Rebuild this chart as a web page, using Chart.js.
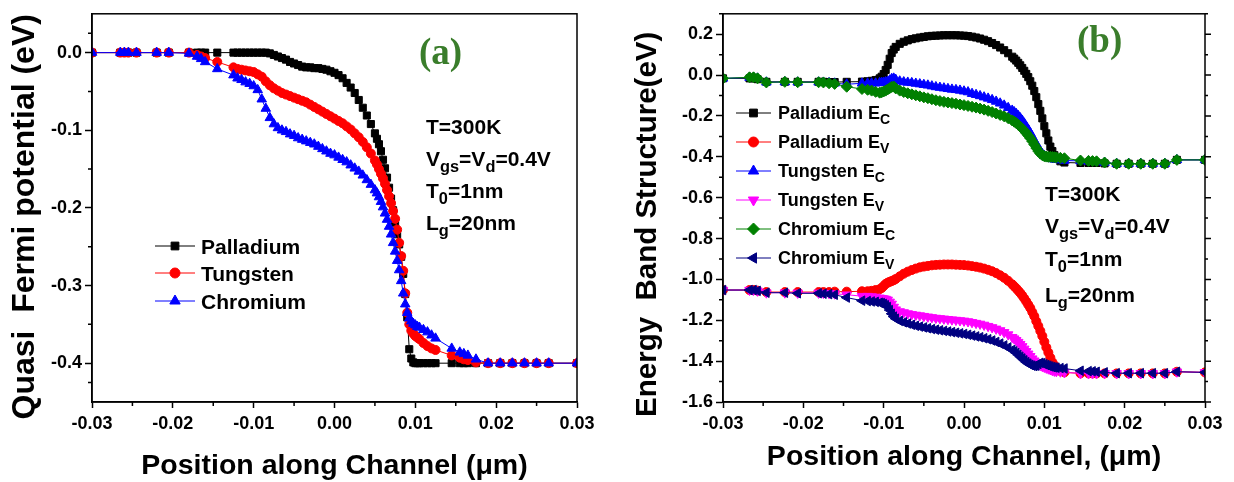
<!DOCTYPE html>
<html>
<head>
<meta charset="utf-8">
<script src="https://cdn.jsdelivr.net/npm/chart.js@4.4.1/dist/chart.umd.min.js"></script>
<style>
  body { margin: 0; background: #fff; width: 1234px; height: 482px; overflow: hidden; position: relative; }
  canvas { position: absolute; top: 0; }
  #chartA { left: 0; }
  #chartB { left: 615px; }
  .t { position: absolute; font-family: "Liberation Sans", Arial, sans-serif; font-weight: bold; color: #000; line-height: 1; white-space: nowrap; }
  .t .s { position: relative; top: 0.35em; font-size: 0.78em; }
  .tag { position: absolute; font-family: "Liberation Serif", "DejaVu Serif", serif; font-weight: bold; color: #3a7d2b; font-size: 37px; line-height: 1; }
</style>
</head>
<body>
<canvas id="chartA" width="610" height="482"></canvas>
<canvas id="chartB" width="619" height="482"></canvas>

<div class="tag" style="left:419px;top:33px">(a)</div>
<div class="t" style="left:426px;top:116px;font-size:21px">T=300K</div>
<div class="t" style="left:426px;top:148px;font-size:21px">V<span class="s">gs</span>=V<span class="s">d</span>=0.4V</div>
<div class="t" style="left:426px;top:180px;font-size:21px">T<span class="s">0</span>=1nm</div>
<div class="t" style="left:426px;top:212px;font-size:21px">L<span class="s">g</span>=20nm</div>
<div class="t" style="left:201px;top:236px;font-size:21px">Palladium</div>
<div class="t" style="left:201px;top:263px;font-size:21px">Tungsten</div>
<div class="t" style="left:201px;top:291px;font-size:21px">Chromium</div>

<div class="tag" style="left:1077px;top:21px">(b)</div>
<div class="t" style="left:1045px;top:183px;font-size:21px">T=300K</div>
<div class="t" style="left:1045px;top:215px;font-size:21px">V<span class="s">gs</span>=V<span class="s">d</span>=0.4V</div>
<div class="t" style="left:1045px;top:248px;font-size:21px">T<span class="s">0</span>=1nm</div>
<div class="t" style="left:1045px;top:284px;font-size:21px">L<span class="s">g</span>=20nm</div>
<div class="t" style="left:778px;top:104px;font-size:18px">Palladium E<span class="s">C</span></div>
<div class="t" style="left:778px;top:133px;font-size:18px">Palladium E<span class="s">V</span></div>
<div class="t" style="left:778px;top:162px;font-size:18px">Tungsten E<span class="s">C</span></div>
<div class="t" style="left:778px;top:191px;font-size:18px">Tungsten E<span class="s">V</span></div>
<div class="t" style="left:778px;top:220px;font-size:18px">Chromium E<span class="s">C</span></div>
<div class="t" style="left:778px;top:249px;font-size:18px">Chromium E<span class="s">V</span></div>

<script>
"use strict";

// ---------- panel (a): quasi Fermi potential ----------
var xTicks = [-0.03, -0.02, -0.01, 0, 0.01, 0.02, 0.03];
var xTickLabels = ["-0.03", "-0.02", "-0.01", "0.00", "0.01", "0.02", "0.03"];
var yTicksA = [-0.4, -0.3, -0.2, -0.1, 0];
var yTickLabelsA = ["-0.4", "-0.3", "-0.2", "-0.1", "0.0"];

var xA = [
  -0.03, -0.0265, -0.026, -0.0255, -0.0245, -0.022, -0.0205, -0.018, -0.017, -0.0165, -0.016, -0.0145, -0.0125,
  -0.012, -0.0115, -0.011, -0.0105, -0.01, -0.0095, -0.009, -0.0085, -0.008, -0.0075, -0.007, -0.0065,
  -0.006, -0.0055, -0.005, -0.0045, -0.004, -0.0035, -0.003, -0.0025, -0.002, -0.0015, -0.001, -0.0005,
  0, 0.0005, 0.001, 0.0015, 0.002, 0.0025, 0.003, 0.0035, 0.004, 0.0045, 0.005,
  0.00525, 0.0055, 0.00575, 0.006, 0.00625, 0.0065, 0.00675, 0.007, 0.00725, 0.0075, 0.00775,
  0.008, 0.00825, 0.0085, 0.00875, 0.009, 0.00925, 0.0095, 0.00975, 0.01, 0.01025, 0.0105,
  0.011, 0.0115, 0.012, 0.0125, 0.0145, 0.0155, 0.016, 0.0165, 0.0175, 0.019, 0.0205, 0.022, 0.0235, 0.025, 0.0265, 0.03
];
var palladiumA = [
  0, 0, 0, 0, 0, 0, 0, 0, 0, 0, 0, 0, 0,
  0, 0, 0, 0, 0, 0, 0, 0, -0.001, -0.003, -0.005, -0.007,
  -0.009, -0.012, -0.014, -0.016, -0.018, -0.019, -0.019, -0.020, -0.020, -0.021, -0.022, -0.024,
  -0.026, -0.029, -0.033, -0.039, -0.045, -0.052, -0.061, -0.071, -0.081, -0.092, -0.104,
  -0.111, -0.118, -0.127, -0.138, -0.149, -0.161, -0.174, -0.188, -0.203, -0.219, -0.234,
  -0.247, -0.263, -0.285, -0.311, -0.341, -0.382, -0.394, -0.399, -0.4, -0.4, -0.4,
  -0.4, -0.4, -0.4, -0.4, -0.4, -0.4, -0.4, -0.4, -0.4, -0.4, -0.4, -0.4, -0.4, -0.4, -0.4, -0.4
];
var tungstenA = [
  0, 0, 0, 0, 0, 0, 0, 0, -0.003, -0.005, -0.007, -0.012, -0.019,
  -0.021, -0.022, -0.023, -0.024, -0.025, -0.028, -0.031, -0.037, -0.042, -0.046, -0.049, -0.052,
  -0.054, -0.056, -0.058, -0.060, -0.062, -0.064, -0.067, -0.070, -0.073, -0.076, -0.079, -0.082,
  -0.085, -0.088, -0.091, -0.095, -0.099, -0.104, -0.109, -0.115, -0.122, -0.130, -0.139,
  -0.144, -0.150, -0.156, -0.162, -0.169, -0.177, -0.185, -0.194, -0.204, -0.214, -0.228,
  -0.245, -0.262, -0.281, -0.310, -0.335, -0.350, -0.358, -0.362, -0.365, -0.367, -0.369,
  -0.374, -0.378, -0.381, -0.383, -0.390, -0.393, -0.395, -0.396, -0.399, -0.4, -0.4, -0.4, -0.4, -0.4, -0.4, -0.4
];
var chromiumA = [
  0, 0, 0, 0, 0, 0, 0, -0.001, -0.005, -0.008, -0.012, -0.021, -0.029,
  -0.033, -0.035, -0.038, -0.040, -0.043, -0.048, -0.060, -0.072, -0.084, -0.092, -0.097, -0.100,
  -0.102, -0.105, -0.107, -0.110, -0.112, -0.114, -0.116, -0.118, -0.121, -0.124, -0.127, -0.130,
  -0.132, -0.135, -0.138, -0.141, -0.145, -0.149, -0.153, -0.158, -0.164, -0.170, -0.177,
  -0.181, -0.186, -0.192, -0.199, -0.207, -0.215, -0.224, -0.234, -0.245, -0.256, -0.268,
  -0.280, -0.294, -0.310, -0.324, -0.335, -0.342, -0.346, -0.349, -0.351, -0.353, -0.354,
  -0.357, -0.360, -0.364, -0.368, -0.381, -0.386, -0.388, -0.390, -0.395, -0.4, -0.4, -0.4, -0.4, -0.4, -0.4, -0.4
];

// ---------- panel (b): energy band structure ----------
var yTicksB = [-1.6, -1.4, -1.2, -1.0, -0.8, -0.6, -0.4, -0.2, 0, 0.2];
var yTickLabelsB = ["-1.6", "-1.4", "-1.2", "-1.0", "-0.8", "-0.6", "-0.4", "-0.2", "0.0", "0.2"];

var xB = [
  -0.03, -0.0267, -0.0262, -0.0257, -0.0246, -0.0223, -0.0207, -0.0181, -0.0175, -0.0168, -0.0161, -0.0146, -0.0127,
  -0.012, -0.0115, -0.011, -0.0105, -0.01025, -0.01, -0.00975, -0.0095, -0.00925, -0.009, -0.00875, -0.0085, -0.008,
  -0.0075, -0.007, -0.0065, -0.006, -0.0055, -0.005, -0.0045, -0.004, -0.0035, -0.003, -0.0025, -0.002, -0.0015, -0.001,
  -0.0005, 0, 0.0005, 0.001, 0.0015, 0.002, 0.0025, 0.003, 0.0035, 0.004, 0.0045, 0.005, 0.0055, 0.006,
  0.00625, 0.0065, 0.00675, 0.007, 0.00725, 0.0075, 0.00775, 0.008, 0.00825, 0.0085, 0.00875,
  0.009, 0.00925, 0.0095, 0.00975, 0.01, 0.01025, 0.0105, 0.01075, 0.011, 0.01125, 0.0115,
  0.012, 0.0125, 0.0145, 0.0155, 0.016, 0.0165, 0.0175, 0.019, 0.0205, 0.022, 0.0235, 0.025, 0.0265, 0.03
];
var palladiumEc = [
  -0.016, -0.016, -0.016, -0.020, -0.033, -0.033, -0.033, -0.033, -0.033, -0.034, -0.034, -0.033, -0.032,
  -0.030, -0.028, -0.024, -0.016, -0.008, 0.005, 0.025, 0.050, 0.080, 0.108, 0.125, 0.138, 0.153,
  0.163, 0.170, 0.176, 0.180, 0.184, 0.187, 0.190, 0.192, 0.193, 0.194, 0.195, 0.195, 0.195, 0.195,
  0.194, 0.193, 0.191, 0.188, 0.184, 0.179, 0.173, 0.166, 0.157, 0.147, 0.135, 0.122, 0.107, 0.090,
  0.081, 0.071, 0.060, 0.048, 0.035, 0.021, 0.006, -0.010, -0.030, -0.052, -0.078,
  -0.108, -0.142, -0.175, -0.212, -0.250, -0.285, -0.320, -0.350, -0.372, -0.392, -0.408,
  -0.422, -0.428, -0.430, -0.430, -0.430, -0.430, -0.432, -0.434, -0.434, -0.434, -0.434, -0.434, -0.415, -0.415
];
var palladiumEv = [
  -1.052, -1.052, -1.052, -1.055, -1.062, -1.062, -1.062, -1.062, -1.062, -1.062, -1.060, -1.060, -1.058,
  -1.058, -1.056, -1.052, -1.048, -1.042, -1.032, -1.022, -1.016, -1.012, -1.008, -1.004, -0.998, -0.985,
  -0.972, -0.962, -0.954, -0.947, -0.941, -0.937, -0.934, -0.931, -0.929, -0.928, -0.927, -0.927, -0.927, -0.928,
  -0.929, -0.930, -0.932, -0.935, -0.938, -0.942, -0.947, -0.953, -0.960, -0.969, -0.980, -0.992, -1.007, -1.024,
  -1.034, -1.044, -1.055, -1.066, -1.079, -1.093, -1.108, -1.124, -1.140, -1.160, -1.180,
  -1.205, -1.228, -1.252, -1.277, -1.305, -1.333, -1.358, -1.383, -1.405, -1.420, -1.432,
  -1.448, -1.455, -1.460, -1.460, -1.460, -1.460, -1.460, -1.460, -1.460, -1.460, -1.460, -1.460, -1.452, -1.455
];
var tungstenEc = [
  -0.016, -0.012, -0.012, -0.016, -0.035, -0.034, -0.035, -0.035, -0.036, -0.038, -0.040, -0.045, -0.040,
  -0.040, -0.040, -0.040, -0.038, -0.037, -0.036, -0.034, -0.032, -0.025, -0.018, -0.016, -0.022, -0.030,
  -0.034, -0.036, -0.038, -0.041, -0.044, -0.047, -0.050, -0.054, -0.058, -0.061, -0.064, -0.067, -0.070, -0.072,
  -0.075, -0.079, -0.083, -0.091, -0.096, -0.102, -0.108, -0.114, -0.121, -0.129, -0.138, -0.148, -0.160, -0.173,
  -0.181, -0.189, -0.199, -0.210, -0.222, -0.236, -0.251, -0.266, -0.283, -0.301, -0.320,
  -0.338, -0.356, -0.372, -0.385, -0.395, -0.400, -0.404, -0.407, -0.410, -0.412, -0.414,
  -0.416, -0.418, -0.420, -0.422, -0.424, -0.425, -0.428, -0.433, -0.433, -0.433, -0.433, -0.433, -0.415, -0.415
];
var tungstenEv = [
  -1.052, -1.052, -1.052, -1.056, -1.065, -1.065, -1.066, -1.066, -1.067, -1.068, -1.070, -1.075, -1.082,
  -1.082, -1.084, -1.086, -1.090, -1.092, -1.094, -1.096, -1.100, -1.110, -1.120, -1.135, -1.148, -1.157,
  -1.162, -1.167, -1.171, -1.174, -1.177, -1.180, -1.183, -1.186, -1.189, -1.191, -1.193, -1.195, -1.197, -1.199,
  -1.201, -1.203, -1.206, -1.210, -1.214, -1.218, -1.223, -1.229, -1.235, -1.242, -1.250, -1.259, -1.270, -1.283,
  -1.290, -1.298, -1.307, -1.317, -1.328, -1.340, -1.352, -1.364, -1.376, -1.388, -1.398,
  -1.407, -1.414, -1.420, -1.425, -1.429, -1.433, -1.437, -1.441, -1.445, -1.448, -1.450,
  -1.452, -1.455, -1.460, -1.460, -1.460, -1.460, -1.460, -1.460, -1.460, -1.460, -1.460, -1.460, -1.452, -1.455
];
var chromiumEc = [
  -0.016, -0.011, -0.011, -0.016, -0.036, -0.033, -0.035, -0.035, -0.036, -0.040, -0.043, -0.057, -0.068,
  -0.072, -0.076, -0.082, -0.086, -0.084, -0.080, -0.076, -0.070, -0.064, -0.058, -0.056, -0.065, -0.076,
  -0.083, -0.089, -0.094, -0.099, -0.104, -0.109, -0.113, -0.118, -0.123, -0.127, -0.131, -0.134, -0.137, -0.140,
  -0.144, -0.147, -0.151, -0.155, -0.159, -0.164, -0.169, -0.175, -0.181, -0.188, -0.195, -0.202, -0.211, -0.222,
  -0.228, -0.235, -0.243, -0.252, -0.262, -0.272, -0.284, -0.296, -0.309, -0.324, -0.340,
  -0.357, -0.372, -0.384, -0.392, -0.397, -0.399, -0.400, -0.400, -0.401, -0.402, -0.403,
  -0.405, -0.407, -0.418, -0.420, -0.421, -0.422, -0.428, -0.434, -0.434, -0.434, -0.434, -0.434, -0.415, -0.415
];
var chromiumEv = [
  -1.052, -1.052, -1.052, -1.056, -1.065, -1.065, -1.068, -1.068, -1.070, -1.072, -1.075, -1.089, -1.104,
  -1.106, -1.108, -1.110, -1.114, -1.116, -1.120, -1.126, -1.135, -1.150, -1.168, -1.182, -1.192, -1.203,
  -1.210, -1.216, -1.222, -1.227, -1.231, -1.235, -1.239, -1.243, -1.246, -1.249, -1.252, -1.255, -1.258, -1.261,
  -1.264, -1.267, -1.271, -1.275, -1.279, -1.283, -1.288, -1.293, -1.299, -1.306, -1.314, -1.323, -1.333, -1.345,
  -1.352, -1.360, -1.369, -1.378, -1.387, -1.396, -1.405, -1.412, -1.418, -1.422, -1.424,
  -1.422, -1.414, -1.408, -1.410, -1.415, -1.419, -1.422, -1.426, -1.429, -1.431, -1.432,
  -1.434, -1.436, -1.447, -1.449, -1.450, -1.452, -1.455, -1.459, -1.459, -1.459, -1.459, -1.459, -1.452, -1.455
];

var FONT = "'Liberation Sans', Arial, sans-serif";

var pairs = function(xs, ys) {
  return xs.map(function(x, i) {
    return { x: x, y: ys[i] };
  });
};

var series = function(label, xs, ys, color, style, radius, rotation, order) {
  return {
    label: label,
    data: pairs(xs, ys),
    borderColor: color,
    backgroundColor: color,
    borderWidth: 1,
    pointStyle: style,
    pointRadius: radius,
    pointRotation: rotation,
    pointBackgroundColor: color,
    pointBorderColor: color,
    pointBorderWidth: 1,
    order: order
  };
};

// frame, minor ticks and legend symbols
var framePlugin = {
  id: "frame",
  afterDraw: function(chart) {
    var o = chart.options.plugins.frame;
    var ctx = chart.ctx;
    var a = chart.chartArea;
    var xs = chart.scales.x;
    var ys = chart.scales.y;
    var i, p;
    ctx.save();
    ctx.strokeStyle = "#000";
    ctx.lineWidth = 1.5;
    ctx.strokeRect(a.left, a.top, a.right - a.left, a.bottom - a.top);

    ctx.beginPath();
    for (i = 0; i < o.xTicks.length - 1; i++) {
      p = xs.getPixelForValue((o.xTicks[i] + o.xTicks[i + 1]) / 2);
      ctx.moveTo(p, a.bottom);
      ctx.lineTo(p, a.bottom + 4);
    }
    for (i = 0; i < o.yTicks.length - 1; i++) {
      p = ys.getPixelForValue((o.yTicks[i] + o.yTicks[i + 1]) / 2);
      ctx.moveTo(a.left, p);
      ctx.lineTo(a.left - 4, p);
      if (o.rightTicks) {
        ctx.moveTo(a.right, p);
        ctx.lineTo(a.right + 3, p);
      }
    }
    if (o.rightTicks) {
      for (i = 0; i < o.yTicks.length; i++) {
        p = ys.getPixelForValue(o.yTicks[i]);
        ctx.moveTo(a.right, p);
        ctx.lineTo(a.right + 6, p);
      }
    }
    ctx.stroke();

    // legend samples
    o.legend.forEach(function(item, k) {
      var y = o.legendRows[k];
      ctx.strokeStyle = item.color;
      ctx.fillStyle = item.color;
      ctx.lineWidth = 1;
      ctx.beginPath();
      ctx.moveTo(o.legendX0, y);
      ctx.lineTo(o.legendX1, y);
      ctx.stroke();
      if (Chart.helpers && Chart.helpers.drawPoint) {
        Chart.helpers.drawPoint(ctx, {
          pointStyle: item.style,
          radius: item.radius + 0.5,
          rotation: item.rotation,
          borderWidth: 1
        }, (o.legendX0 + o.legendX1) / 2, y);
      }
    });
    ctx.restore();
  }
};

var buildOptions = function(cfg) {
  return {
    responsive: false,
    maintainAspectRatio: false,
    animation: false,
    devicePixelRatio: 1,
    events: [],
    layout: { padding: { top: cfg.padTop, right: cfg.padRight, left: 0, bottom: 0 } },
    plugins: {
      legend: { display: false },
      tooltip: { enabled: false },
      frame: cfg.frame
    },
    scales: {
      x: {
        type: "linear",
        min: -0.03,
        max: 0.03,
        afterFit: function(s) { s.height = 80; },
        afterBuildTicks: function(s) {
          s.ticks = xTicks.map(function(v) { return { value: v }; });
        },
        ticks: {
          autoSkip: false,
          maxRotation: 0,
          padding: 5,
          color: "#000",
          font: { family: FONT, size: 18, weight: "bold" },
          callback: function(v, i) { return xTickLabels[i]; }
        },
        grid: { drawOnChartArea: false, drawTicks: true, tickLength: 6, tickWidth: 1.5, tickColor: "#000" },
        border: { display: true, color: "#000", width: 1.5 },
        title: {
          display: true,
          text: cfg.xTitle,
          color: "#000",
          padding: { top: 0, bottom: cfg.xTitlePad },
          font: { family: FONT, size: 28.5, weight: "bold", lineHeight: 1 }
        }
      },
      y: {
        type: "linear",
        min: cfg.yMin,
        max: cfg.yMax,
        afterFit: function(s) { s.width = cfg.yAxisWidth; },
        afterBuildTicks: function(s) {
          s.ticks = cfg.yTicks.map(function(v) { return { value: v }; });
        },
        ticks: {
          autoSkip: false,
          padding: 3,
          color: "#000",
          font: { family: FONT, size: 18, weight: "bold" },
          callback: function(v, i) { return cfg.yTickLabels[i]; }
        },
        grid: { drawOnChartArea: false, drawTicks: true, tickLength: 7, tickWidth: 1.5, tickColor: "#000" },
        border: { display: true, color: "#000", width: 1.5 },
        title: {
          display: true,
          text: cfg.yTitle,
          color: "#000",
          padding: { top: cfg.yTitlePad, bottom: 0 },
          font: { family: FONT, size: cfg.yTitleSize, weight: "bold", lineHeight: 1.2 }
        }
      }
    }
  };
};

var legendA = [
  { color: "#000000", style: "rect", radius: 5, rotation: 0 },
  { color: "#ff0000", style: "circle", radius: 4.5, rotation: 0 },
  { color: "#0000ff", style: "triangle", radius: 5.5, rotation: 0 }
];

new Chart(document.getElementById("chartA"), {
  type: "line",
  data: {
    datasets: [
      series("Palladium", xA, palladiumA, "#000000", "rect", 5, 0, 3),
      series("Tungsten", xA, tungstenA, "#ff0000", "circle", 4.5, 0, 2),
      series("Chromium", xA, chromiumA, "#0000ff", "triangle", 5.5, 0, 1)
    ]
  },
  options: buildOptions({
    padTop: 9,
    padRight: 33,
    yMin: -0.45,
    yMax: 0.05,
    yTicks: yTicksA,
    yTickLabels: yTickLabelsA,
    yAxisWidth: 92,
    yTitle: "Quasi  Fermi potential (eV)  ",
    yTitleSize: 32,
    yTitlePad: 6,
    xTitle: "Position along Channel (\u03bcm)",
    xTitlePad: 2,
    frame: {
      xTicks: xTicks,
      yTicks: [-0.45].concat(yTicksA, [0.05]),
      rightTicks: false,
      legend: legendA,
      legendRows: [246, 273, 301],
      legendX0: 155,
      legendX1: 195
    }
  }),
  plugins: [framePlugin]
});

var legendB = [
  { color: "#000000", style: "rect", radius: 5, rotation: 0 },
  { color: "#ff0000", style: "circle", radius: 4.5, rotation: 0 },
  { color: "#0000ff", style: "triangle", radius: 5.5, rotation: 0 },
  { color: "#ff00ff", style: "triangle", radius: 5.5, rotation: 180 },
  { color: "#008000", style: "rectRot", radius: 5.5, rotation: 0 },
  { color: "#000080", style: "triangle", radius: 5.5, rotation: 270 }
];

new Chart(document.getElementById("chartB"), {
  type: "line",
  data: {
    datasets: [
      series("Palladium Ec", xB, palladiumEc, "#000000", "rect", 5, 0, 6),
      series("Palladium Ev", xB, palladiumEv, "#ff0000", "circle", 4.5, 0, 5),
      series("Tungsten Ec", xB, tungstenEc, "#0000ff", "triangle", 5.5, 0, 4),
      series("Tungsten Ev", xB, tungstenEv, "#ff00ff", "triangle", 5.5, 180, 3),
      series("Chromium Ec", xB, chromiumEc, "#008000", "rectRot", 5.5, 0, 2),
      series("Chromium Ev", xB, chromiumEv, "#000080", "triangle", 5.5, 270, 1)
    ]
  },
  options: buildOptions({
    padTop: 10,
    padRight: 29,
    yMin: -1.6,
    yMax: 0.3,
    yTicks: yTicksB,
    yTickLabels: yTickLabelsB,
    yAxisWidth: 108,
    yTitle: "Energy  Band Structure(eV)    ",
    yTitleSize: 29.5,
    yTitlePad: 15,
    xTitle: "Position along Channel, (\u03bcm)",
    xTitlePad: 11,
    frame: {
      xTicks: xTicks,
      yTicks: yTicksB.concat([0.4]),
      rightTicks: true,
      legend: legendB,
      legendRows: [113, 142, 171, 200, 229, 258],
      legendX0: 121,
      legendX1: 156
    }
  }),
  plugins: [framePlugin]
});
</script>
</body>
</html>
